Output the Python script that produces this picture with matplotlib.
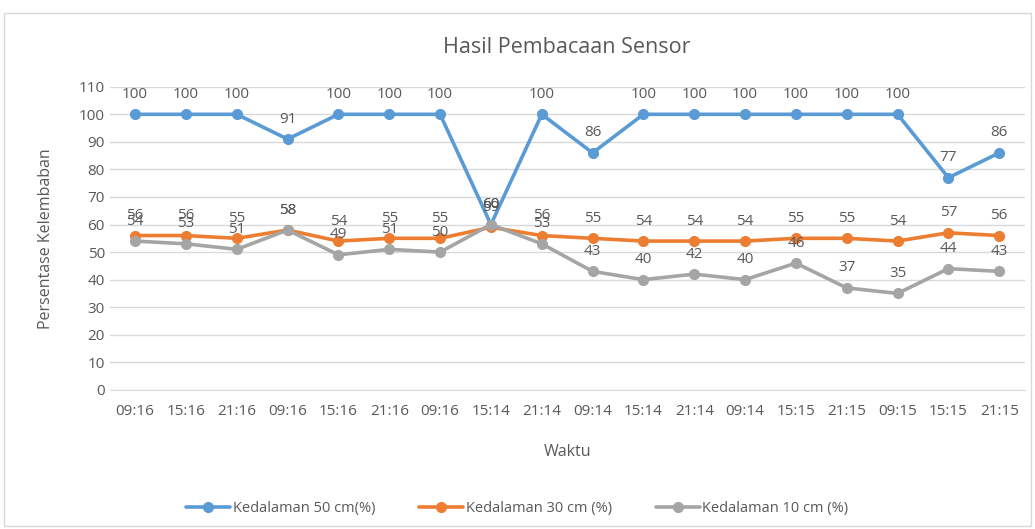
import matplotlib.pyplot as plt
from matplotlib.patches import Rectangle

plt.rcParams['font.family'] = ['Open Sans', 'DejaVu Sans']

# data
waktu = ['09:16', '15:16', '21:16', '09:16', '15:16', '21:16', '09:16', '15:14', '21:14',
         '09:14', '15:14', '21:14', '09:14', '15:15', '21:15', '09:15', '15:15', '21:15']
k50 = [100, 100, 100, 91, 100, 100, 100, 60, 100, 86, 100, 100, 100, 100, 100, 100, 77, 86]
k30 = [56, 56, 55, 58, 54, 55, 55, 59, 56, 55, 54, 54, 54, 55, 55, 54, 57, 56]
k10 = [54, 53, 51, 58, 49, 51, 50, 60, 53, 43, 40, 42, 40, 46, 37, 35, 44, 43]

series = [
    (k50, 'Kedalaman 50 cm(%)', '#5b9bd5'),
    (k30, 'Kedalaman 30 cm (%)', '#ed7d31'),
    (k10, 'Kedalaman 10 cm (%)', '#a5a5a5'),
]
txt = '#595959'

fig = plt.figure(figsize=(10.35, 5.29), dpi=100)
ax = fig.add_axes([0.106, 0.263, 0.884, 0.573])

# chart border
fig.patches.append(Rectangle((0.004, 0.006), 0.992, 0.97, transform=fig.transFigure,
                             fill=False, edgecolor='#d9d9d9', linewidth=1))

x = list(range(len(waktu)))
for vals, lab, col in series:
    ax.plot(x, vals, color=col, linewidth=2.6, marker='o', markersize=7, label=lab,
            solid_capstyle='round')
    for xi, v in zip(x, vals):
        ax.annotate(str(v), (xi, v), xytext=(0, 9), textcoords='offset points',
                    ha='center', va='bottom', fontsize=11, color=txt)

ax.set_xlim(-0.5, len(waktu) - 0.5)
ax.set_ylim(0, 110)
ax.set_yticks(range(0, 111, 10))
ax.set_xticks(x)
ax.set_xticklabels(waktu)
ax.tick_params(axis='both', length=0, labelsize=11, labelcolor=txt)
ax.tick_params(axis='x', pad=10)
ax.grid(axis='y', color='#d9d9d9', linewidth=1)
ax.set_axisbelow(True)
for s in ['top', 'right', 'left']:
    ax.spines[s].set_visible(False)
ax.spines['bottom'].set_color('#d9d9d9')

ax.set_title('Hasil Pembacaan Sensor', fontsize=15.5, color=txt, pad=24)
ax.set_xlabel('Waktu', fontsize=11.5, color=txt, labelpad=18)
ax.set_ylabel('Persentase Kelembaban', fontsize=11.5, color=txt, labelpad=18)

fig.legend(loc='lower center', bbox_to_anchor=(0.5, 0.0), ncol=3, frameon=False,
           fontsize=10.5, labelcolor=txt, handlelength=3, columnspacing=3, handletextpad=0.2)

plt.savefig('out.png', dpi=100)
